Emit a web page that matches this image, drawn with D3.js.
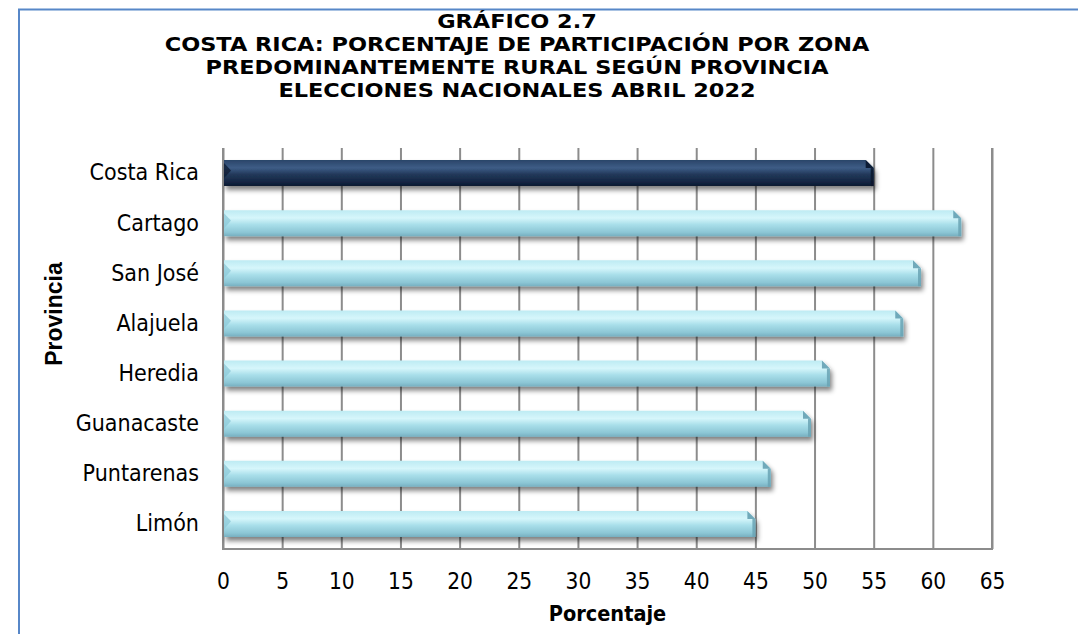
<!DOCTYPE html>
<html>
<head>
<meta charset="utf-8">
<script src="https://cdn.jsdelivr.net/npm/d3@7"></script>
<style>
  html, body { margin: 0; padding: 0; background: #ffffff; }
  svg { display: block; }
</style>
</head>
<body>
<svg id="chart" width="1078" height="634"></svg>
<script>
// ---- Data ----
const categories = ["Costa Rica", "Cartago", "San José", "Alajuela", "Heredia", "Guanacaste", "Puntarenas", "Limón"];
const values = [55.0, 62.4, 59.0, 57.5, 51.3, 49.7, 46.3, 45.0];
const highlight = ["Costa Rica"];
const xTicks = [0, 5, 10, 15, 20, 25, 30, 35, 40, 45, 50, 55, 60, 65];
const titleLines = [
  "GRÁFICO 2.7",
  "COSTA RICA: PORCENTAJE DE PARTICIPACIÓN POR ZONA",
  "PREDOMINANTEMENTE RURAL SEGÚN PROVINCIA",
  "ELECCIONES NACIONALES ABRIL 2022"
];
const xAxisTitle = "Porcentaje";
const yAxisTitle = "Provincia";

// ---- Layout ----
const svg = d3.select("#chart");
const plot = { left: 223, right: 992, top: 148, bottom: 549 };
const labelFont = "'DejaVu Sans Condensed', 'DejaVu Sans', sans-serif";
const titleFont = "'DejaVu Sans', sans-serif";

const x = d3.scaleLinear().domain([0, 65]).range([plot.left, plot.right]);
const y = d3.scaleBand().domain(categories).range([plot.top, plot.bottom])
  .paddingInner(0.48).paddingOuter(0.24);

// defs
const defs = svg.append("defs");
const gLight = defs.append("linearGradient").attr("id", "gLight").attr("x1", 0).attr("y1", 0).attr("x2", 0).attr("y2", 1);
[[0, "#bdebf3"], [0.3, "#d6f6fb"], [0.55, "#a9dfea"], [0.85, "#8cc6d5"], [1, "#76afc0"]]
  .forEach(s => gLight.append("stop").attr("offset", s[0]).attr("stop-color", s[1]));
const gDark = defs.append("linearGradient").attr("id", "gDark").attr("x1", 0).attr("y1", 0).attr("x2", 0).attr("y2", 1);
[[0, "#2a4569"], [0.3, "#3d5d86"], [0.55, "#22395a"], [0.85, "#132542"], [1, "#0d1a30"]]
  .forEach(s => gDark.append("stop").attr("offset", s[0]).attr("stop-color", s[1]));
const shadow = defs.append("filter").attr("id", "shadow").attr("x", "-5%").attr("y", "-30%").attr("width", "110%").attr("height", "180%");
shadow.append("feGaussianBlur").attr("in", "SourceAlpha").attr("stdDeviation", 2.4).attr("result", "b");
shadow.append("feOffset").attr("in", "b").attr("dx", 2).attr("dy", 3.5).attr("result", "o");
shadow.append("feComponentTransfer").attr("in", "o").attr("result", "s")
  .append("feFuncA").attr("type", "linear").attr("slope", 0.5);
const merge = shadow.append("feMerge");
merge.append("feMergeNode").attr("in", "s");
merge.append("feMergeNode").attr("in", "SourceGraphic");

// background
svg.append("rect").attr("width", 1078).attr("height", 634).attr("fill", "#ffffff");

// outer blue frame (left + top visible)
svg.append("path").attr("d", "M19,640 L19,9.5 L1090,9.5")
  .attr("fill", "none").attr("stroke", "#5787c8").attr("stroke-width", 2);

// title
const title = svg.append("g");
titleLines.forEach((t, i) => {
  title.append("text")
    .attr("transform", `translate(517,${28 + i * 23}) scale(1.15,1)`)
    .attr("text-anchor", "middle")
    .attr("font-family", titleFont)
    .attr("font-weight", "bold")
    .attr("font-size", 19.5)
    .attr("fill", "#000")
    .text(t);
});

// gridlines (vertical)
const grid = svg.append("g").attr("transform", `translate(0,${plot.bottom})`)
  .call(d3.axisBottom(x).tickValues(xTicks).tickSize(-(plot.bottom - plot.top)).tickFormat(""));
grid.select(".domain").remove();
grid.selectAll("line").attr("stroke", "#8c8c8c").attr("stroke-width", 2);

// plot border: left, bottom, right
svg.append("path")
  .attr("d", `M${plot.left},${plot.top} L${plot.left},${plot.bottom} L${plot.right},${plot.bottom} L${plot.right},${plot.top}`)
  .attr("fill", "none").attr("stroke", "#8c8c8c").attr("stroke-width", 2);

// bars
const bh = y.bandwidth();
const bars = svg.append("g");
categories.forEach((c, i) => {
  const v = values[i];
  const x0 = x(0) + 1, x1 = x(v), y0 = y(c), isHi = highlight.includes(c);
  const g = bars.append("g").attr("filter", "url(#shadow)");
  const ch = 8;
  g.append("path")
    .attr("d", `M${x0},${y0} L${x1 - ch},${y0} L${x1},${y0 + ch} L${x1},${y0 + bh} L${x0},${y0 + bh} Z`)
    .attr("fill", isHi ? "url(#gDark)" : "url(#gLight)");
  // right bevel facet
  g.append("path")
    .attr("d", `M${x1 - ch},${y0} L${x1},${y0 + ch} L${x1 - ch},${y0 + ch} Z`)
    .attr("fill", isHi ? "#0f1e36" : "#6fa9ba");
  g.append("path")
    .attr("d", `M${x1 - 3},${y0 + ch} L${x1},${y0 + ch} L${x1},${y0 + bh} L${x1 - 3},${y0 + bh} Z`)
    .attr("fill", isHi ? "#0b172b" : "#6aa3b4").attr("opacity", 0.85);
  // left small facet
  g.append("path")
    .attr("d", `M${x0},${y0 + 3} L${x0 + 7},${y0 + bh * 0.4} L${x0},${y0 + bh * 0.7} Z`)
    .attr("fill", isHi ? "#0e1d34" : "#8fcbd9").attr("opacity", 0.8);
});

// y category labels
const yAxis = svg.append("g").attr("transform", `translate(${plot.left},0)`)
  .call(d3.axisLeft(y).tickSize(0).tickPadding(24));
yAxis.select(".domain").remove();
yAxis.selectAll("text")
  .attr("font-family", labelFont).attr("font-size", 23).attr("fill", "#000");

// x tick labels
const xAxis = svg.append("g").attr("transform", `translate(0,${plot.bottom})`)
  .call(d3.axisBottom(x).tickValues(xTicks).tickSize(0).tickPadding(24).tickFormat(d3.format("d")));
xAxis.select(".domain").remove();
xAxis.selectAll("text")
  .attr("font-family", labelFont).attr("font-size", 22.5).attr("fill", "#000");

// axis titles
svg.append("text")
  .attr("x", (plot.left + plot.right) / 2).attr("y", 621)
  .attr("text-anchor", "middle")
  .attr("font-family", labelFont).attr("font-weight", "bold").attr("font-size", 21.5)
  .text(xAxisTitle);

svg.append("text")
  .attr("transform", "translate(62,314) rotate(-90)")
  .attr("text-anchor", "middle")
  .attr("font-family", "'Liberation Sans', Arial, sans-serif").attr("font-weight", "bold").attr("font-size", 23)
  .text(yAxisTitle);
</script>
</body>
</html>
